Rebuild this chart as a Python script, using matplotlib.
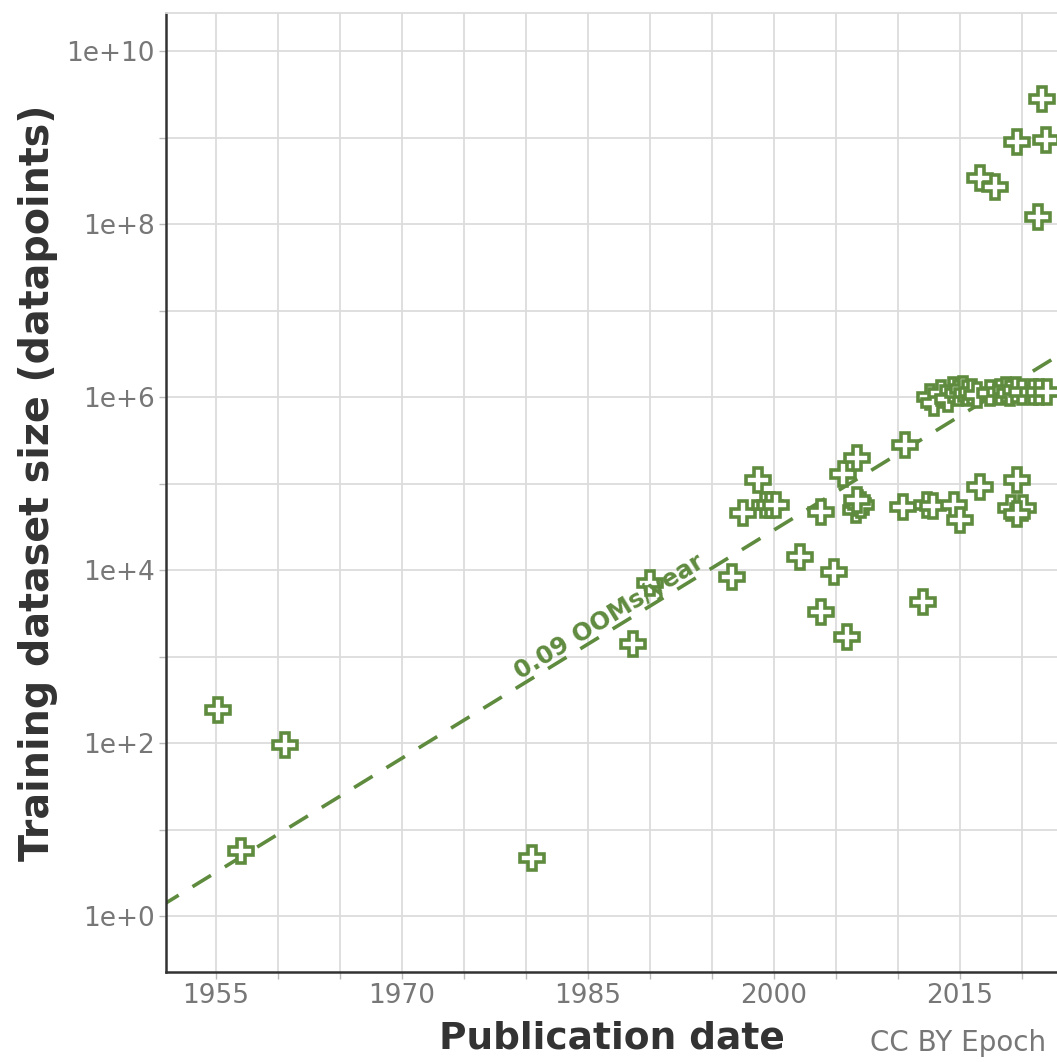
import matplotlib
matplotlib.use("Agg")
import matplotlib.pyplot as plt
import numpy as np

# ---- data ----
years = [1955.2, 1957.0, 1960.6, 1980.5, 1988.6, 1990.0, 1996.6, 1997.5, 1998.7,
         1999.3, 1999.7, 2000.2, 2002.1, 2003.8, 2003.8, 2004.8, 2005.6, 2005.9,
         2006.7, 2006.6, 2006.8, 2007.0, 2006.7, 2010.6, 2010.4, 2012.0, 2012.3,
         2012.8, 2014.5, 2015.0, 2016.6, 2019.6, 2019.1, 2020.1, 2019.6,
         2021.6, 2019.6, 2021.9, 2016.6, 2017.8, 2021.3,
         2012.6, 2012.9, 2013.5, 2014.0, 2014.4, 2014.8, 2015.2, 2015.6, 2016.0,
         2016.4, 2017.4, 2018.2, 2018.7, 2019.0, 2019.5, 2020.0, 2020.9, 2021.4, 2022.0]
sizes = [240, 5.6, 95, 4.7, 1.4e3, 7.0e3, 8.3e3, 4.6e4, 1.1e5,
         5.6e4, 5.6e4, 5.6e4, 1.4e4, 3.3e3, 4.7e4, 9.5e3, 1.3e5, 1.7e3,
         2.0e5, 5.0e4, 6.0e4, 5.6e4, 6.5e4, 2.8e5, 5.4e4, 4.3e3, 5.6e4,
         5.5e4, 5.6e4, 3.8e4, 9.1e4, 1.1e5, 5.2e4, 5.2e4, 4.5e4,
         2.8e9, 8.9e8, 9.3e8, 3.4e8, 2.7e8, 1.2e8,
         1.0e6, 8.5e5, 1.1e6, 9.5e5, 1.2e6, 1.1e6, 1.25e6, 1.1e6, 1.15e6,
         1.05e6, 1.1e6, 1.15e6, 1.2e6, 1.1e6, 1.2e6, 1.15e6, 1.15e6, 1.15e6, 1.15e6]

trend_years = [1950.5, 2023.5]
trend_sizes = [10 ** 0.11, 10 ** 6.53]
trend_label = "0.09 OOMs/year"

xticks = list(range(1955, 2025, 5))
xtick_labels = [str(y) if (y - 1955) % 15 == 0 else "" for y in xticks]
yticks = [10.0 ** k for k in range(0, 11)]
ytick_labels = ["1e+%d" % k if k % 2 == 0 else "" for k in range(0, 11)]

GREEN = "#5f8b3f"
GRID = "#dcdcdc"

fig = plt.figure(figsize=(10.57, 10.62), dpi=100)
ax = fig.add_axes([166 / 1057, 90 / 1062, 1 - 166 / 1057, (972 - 13) / 1062])

ax.set_yscale("log")
ax.set_xlim(1950.97, 2022.82)
ax.set_ylim(10 ** -0.647, 10 ** 10.44)

ax.set_xticks(xticks)
ax.set_xticklabels(xtick_labels)
ax.set_yticks(yticks)
ax.set_yticklabels(ytick_labels)
ax.yaxis.set_minor_locator(matplotlib.ticker.NullLocator())

ax.grid(True, color=GRID, linewidth=1.3, zorder=0)
ax.set_axisbelow(True)

for s in ["left", "bottom"]:
    ax.spines[s].set_color("#333333")
    ax.spines[s].set_linewidth(1.8)
ax.spines["top"].set_color(GRID)
ax.spines["top"].set_linewidth(1.3)
ax.spines["right"].set_visible(False)

ax.tick_params(axis="both", colors="#bbbbbb", length=5, width=1.0,
               labelcolor="#777777", labelsize=19, pad=3)

# trend line
ax.plot(trend_years, trend_sizes, color=GREEN, linewidth=2.6,
        dashes=(6, 4.5), zorder=2)

# scatter
ax.plot(years, sizes, linestyle="none", marker="P", markersize=17,
        markerfacecolor="white", markeredgecolor=GREEN, markeredgewidth=2.6,
        zorder=3)

# trend label along the line
lx = 1987.2
slope = (np.log10(trend_sizes[1]) - np.log10(trend_sizes[0])) / (trend_years[1] - trend_years[0])
ly = 10 ** (np.log10(trend_sizes[0]) + slope * (lx - trend_years[0]))
p1 = ax.transData.transform((lx, ly))
p2 = ax.transData.transform((lx + 10, 10 ** (np.log10(ly) + slope * 10)))
ang = np.degrees(np.arctan2(p2[1] - p1[1], p2[0] - p1[0]))
ax.text(lx, ly, trend_label, rotation=ang, rotation_mode="anchor",
        ha="center", va="bottom", color=GREEN, fontsize=17.5, fontweight="bold",
        zorder=4)

ax.set_xlabel("Publication date", fontsize=27, fontweight="bold",
              color="#333333", labelpad=8)
ax.set_ylabel("Training dataset size (datapoints)", fontsize=28.5,
              fontweight="bold", color="#333333")
ax.yaxis.set_label_coords(38 / 1057 - 166 / 1057, (1062 - 483 - 90) / 959,
                          transform=fig.transFigure + matplotlib.transforms.Affine2D())
ax.yaxis.label.set_position((38 / 1057, (1062 - 483) / 1062))
ax.yaxis.label.set_transform(fig.transFigure)
ax.yaxis.label.set_verticalalignment("center")

fig.text(870 / 1057, 1 - 1043 / 1062, "CC BY Epoch", fontsize=20,
         color="#777777", ha="left", va="center")

fig.savefig("out.png", dpi=100)
